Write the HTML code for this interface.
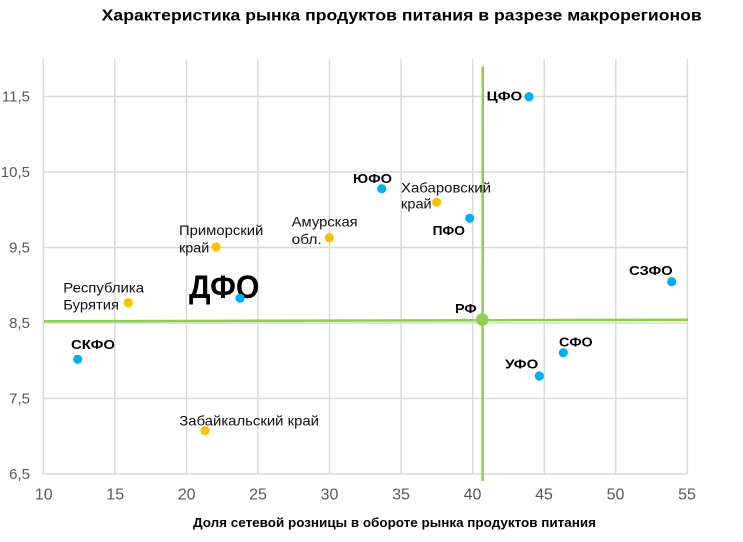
<!DOCTYPE html>
<html>
<head>
<meta charset="utf-8">
<style>
  html, body { margin: 0; padding: 0; background: #ffffff; }
  svg { display: block; }
  text { font-family: "Liberation Sans", "Noto Sans CJK SC", sans-serif; }
</style>
</head>
<body>
<svg width="743" height="542" viewBox="0 0 743 542" xmlns="http://www.w3.org/2000/svg">
  <rect width="743" height="542" fill="#ffffff"/>

  <!-- Title -->
  <text x="101.7" y="20.5" font-size="16" font-weight="bold" fill="#000" textLength="600" lengthAdjust="spacingAndGlyphs">Характеристика рынка продуктов питания в разрезе макрорегионов</text>

  <!-- Gridlines vertical -->
  <g stroke="#d9d9d9" stroke-width="1.4">
    <line x1="43.2" y1="59" x2="43.2" y2="474"/>
    <line x1="114.8" y1="59" x2="114.8" y2="474"/>
    <line x1="186.4" y1="59" x2="186.4" y2="474"/>
    <line x1="257.9" y1="59" x2="257.9" y2="474"/>
    <line x1="329.5" y1="59" x2="329.5" y2="474"/>
    <line x1="401.1" y1="59" x2="401.1" y2="474"/>
    <line x1="472.7" y1="59" x2="472.7" y2="474"/>
    <line x1="544.2" y1="59" x2="544.2" y2="474"/>
    <line x1="615.8" y1="59" x2="615.8" y2="474"/>
    <line x1="687.4" y1="59" x2="687.4" y2="474"/>
    <!-- horizontal -->
    <line x1="43.2" y1="96.5" x2="687.4" y2="96.5"/>
    <line x1="43.2" y1="172" x2="687.4" y2="172"/>
    <line x1="43.2" y1="247.5" x2="687.4" y2="247.5"/>
    <line x1="43.2" y1="323" x2="687.4" y2="323"/>
    <line x1="43.2" y1="398.5" x2="687.4" y2="398.5"/>
    <line x1="43.2" y1="474" x2="687.4" y2="474"/>
  </g>

  <!-- Y tick labels -->
  <g font-size="15" fill="#595959" text-anchor="end">
    <text x="30" y="101.5">11,5</text>
    <text x="30" y="177">10,5</text>
    <text x="30" y="252.5">9,5</text>
    <text x="30" y="328">8,5</text>
    <text x="30" y="403.5">7,5</text>
    <text x="30" y="479">6,5</text>
  </g>

  <!-- X tick labels -->
  <g font-size="16" fill="#595959" text-anchor="middle">
    <text x="43.8" y="499.5">10</text>
    <text x="115.2" y="499.5">15</text>
    <text x="186.6" y="499.5">20</text>
    <text x="258" y="499.5">25</text>
    <text x="329.5" y="499.5">30</text>
    <text x="401" y="499.5">35</text>
    <text x="472.5" y="499.5">40</text>
    <text x="544" y="499.5">45</text>
    <text x="615.5" y="499.5">50</text>
    <text x="687" y="499.5">55</text>
  </g>

  <!-- X axis title -->
  <text x="193" y="527" font-size="13" font-weight="bold" fill="#000" textLength="403" lengthAdjust="spacingAndGlyphs">Доля сетевой розницы в обороте рынка продуктов питания</text>

  <!-- Green reference lines -->
  <line x1="44" y1="321.3" x2="688" y2="319.7" stroke="#8fce4a" stroke-width="2.5"/>
  <line x1="482.8" y1="66.5" x2="482.6" y2="481" stroke="#8fce4a" stroke-width="2.5"/>

  <!-- Regular labels -->
  <g font-size="14" fill="#111">
    <text x="401" y="192.3" textLength="90" lengthAdjust="spacingAndGlyphs">Хабаровский</text>
    <text x="401" y="208.3" textLength="30.7" lengthAdjust="spacingAndGlyphs">край</text>
    <text x="291.7" y="226.7" textLength="66" lengthAdjust="spacingAndGlyphs">Амурская</text>
    <text x="291.7" y="244" textLength="30" lengthAdjust="spacingAndGlyphs">обл.</text>
    <text x="179" y="235" textLength="84.3" lengthAdjust="spacingAndGlyphs">Приморский</text>
    <text x="179" y="252.3" textLength="30.3" lengthAdjust="spacingAndGlyphs">край</text>
    <text x="63.3" y="292.7" textLength="80.7" lengthAdjust="spacingAndGlyphs">Республика</text>
    <text x="63.3" y="309.5" textLength="55.7" lengthAdjust="spacingAndGlyphs">Бурятия</text>
    <text x="179.3" y="425.7" textLength="139.7" lengthAdjust="spacingAndGlyphs">Забайкальский край</text>
  </g>

  <!-- Bold labels -->
  <g font-size="13" font-weight="bold" fill="#000">
    <text x="486.7" y="100.5" textLength="35.6" lengthAdjust="spacingAndGlyphs">ЦФО</text>
    <text x="353" y="183" textLength="39" lengthAdjust="spacingAndGlyphs">ЮФО</text>
    <text x="432.7" y="235" textLength="32.3" lengthAdjust="spacingAndGlyphs">ПФО</text>
    <text x="71" y="349" textLength="44" lengthAdjust="spacingAndGlyphs">СКФО</text>
    <text x="629" y="275" textLength="43.7" lengthAdjust="spacingAndGlyphs">СЗФО</text>
    <text x="455" y="313" textLength="21.7" lengthAdjust="spacingAndGlyphs">РФ</text>
    <text x="559" y="346.7" textLength="33.7" lengthAdjust="spacingAndGlyphs">СФО</text>
    <text x="505" y="368.3" textLength="33.3" lengthAdjust="spacingAndGlyphs">УФО</text>
  </g>
  <text x="189" y="298" font-size="32" font-weight="bold" fill="#000" textLength="70.3" lengthAdjust="spacingAndGlyphs">ДФО</text>

  <!-- Orange points -->
  <g fill="#ffc000">
    <circle cx="436.7" cy="202.3" r="4.6"/>
    <circle cx="329.3" cy="237.7" r="4.6"/>
    <circle cx="216" cy="247" r="4.6"/>
    <circle cx="128.3" cy="302.7" r="4.6"/>
    <circle cx="205" cy="430.7" r="4.6"/>
  </g>

  <!-- Blue points -->
  <g fill="#00b0f0">
    <circle cx="529" cy="96.7" r="4.6"/>
    <circle cx="381.7" cy="188.7" r="4.6"/>
    <circle cx="469.7" cy="218.3" r="4.6"/>
    <circle cx="240" cy="298.3" r="4.6"/>
    <circle cx="77.7" cy="359.3" r="4.6"/>
    <circle cx="671.7" cy="281.7" r="4.6"/>
    <circle cx="563.3" cy="352.7" r="4.6"/>
    <circle cx="539.3" cy="376" r="4.6"/>
  </g>

  <!-- RF point -->
  <circle cx="482.2" cy="319.5" r="6.3" fill="#8fce4a"/>
</svg>
</body>
</html>
